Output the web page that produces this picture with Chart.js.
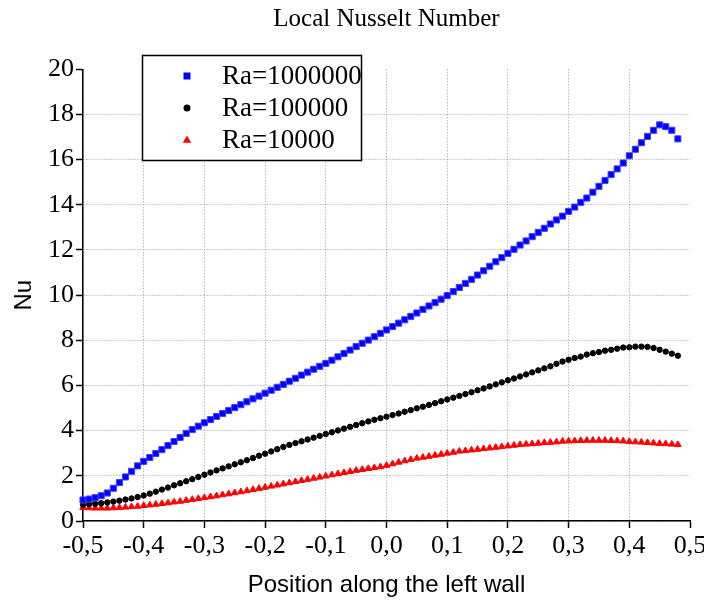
<!DOCTYPE html>
<html><head><meta charset="utf-8">
<script src="https://cdn.jsdelivr.net/npm/chart.js@4.4.1/dist/chart.umd.min.js"></script>
<style>html,body{margin:0;padding:0;background:#fff;}canvas{display:block;}</style>
</head><body>
<canvas id="c" width="704" height="603"></canvas>
<script>
const positions = [
-0.50,-0.49,-0.48,-0.47,-0.46,-0.45,-0.44,-0.43,-0.42,-0.41,
-0.40,-0.39,-0.38,-0.37,-0.36,-0.35,-0.34,-0.33,-0.32,-0.31,
-0.30,-0.29,-0.28,-0.27,-0.26,-0.25,-0.24,-0.23,-0.22,-0.21,
-0.20,-0.19,-0.18,-0.17,-0.16,-0.15,-0.14,-0.13,-0.12,-0.11,
-0.10,-0.09,-0.08,-0.07,-0.06,-0.05,-0.04,-0.03,-0.02,-0.01,
0.00,0.01,0.02,0.03,0.04,0.05,0.06,0.07,0.08,0.09,
0.10,0.11,0.12,0.13,0.14,0.15,0.16,0.17,0.18,0.19,
0.20,0.21,0.22,0.23,0.24,0.25,0.26,0.27,0.28,0.29,
0.30,0.31,0.32,0.33,0.34,0.35,0.36,0.37,0.38,0.39,
0.40,0.41,0.42,0.43,0.44,0.45,0.46,0.47,0.48];

const nuRa1e6 = [
0.93,0.97,1.03,1.12,1.24,1.45,1.70,1.95,2.20,2.44,
2.64,2.81,2.99,3.16,3.34,3.52,3.70,3.88,4.05,4.20,
4.35,4.49,4.63,4.76,4.89,5.02,5.15,5.28,5.41,5.53,
5.66,5.79,5.92,6.05,6.19,6.32,6.46,6.59,6.72,6.85,
6.98,7.12,7.27,7.42,7.57,7.72,7.87,8.01,8.16,8.31,
8.46,8.61,8.76,8.91,9.06,9.21,9.37,9.52,9.67,9.82,
9.98,10.16,10.34,10.52,10.70,10.89,11.08,11.28,11.48,11.66,
11.85,12.03,12.22,12.40,12.59,12.78,12.96,13.15,13.33,13.50,
13.71,13.90,14.11,14.30,14.56,14.82,15.08,15.34,15.59,15.85,
16.17,16.46,16.75,17.03,17.30,17.54,17.46,17.30,16.92];

const nuRa1e5 = [
0.72,0.74,0.76,0.79,0.82,0.86,0.90,0.95,1.00,1.06,
1.13,1.21,1.30,1.39,1.48,1.58,1.67,1.76,1.85,1.95,
2.05,2.15,2.24,2.33,2.42,2.51,2.60,2.69,2.79,2.89,
2.98,3.08,3.18,3.28,3.37,3.45,3.53,3.61,3.69,3.77,
3.85,3.93,4.01,4.09,4.17,4.25,4.33,4.41,4.48,4.55,
4.62,4.69,4.76,4.84,4.91,4.99,5.06,5.14,5.22,5.30,
5.38,5.46,5.54,5.62,5.70,5.79,5.87,5.96,6.05,6.14,
6.23,6.31,6.40,6.49,6.58,6.67,6.76,6.85,6.96,7.06,
7.14,7.22,7.28,7.37,7.43,7.48,7.54,7.58,7.63,7.68,
7.69,7.72,7.72,7.71,7.66,7.58,7.50,7.41,7.32];

const nuRa1e4 = [
0.60,0.58,0.57,0.57,0.57,0.58,0.59,0.61,0.63,0.65,
0.68,0.71,0.74,0.77,0.80,0.84,0.87,0.91,0.95,0.99,
1.03,1.07,1.11,1.16,1.20,1.25,1.29,1.34,1.39,1.44,
1.49,1.54,1.59,1.64,1.69,1.74,1.79,1.84,1.89,1.94,
1.99,2.04,2.09,2.14,2.19,2.24,2.28,2.32,2.36,2.40,
2.46,2.53,2.60,2.66,2.72,2.78,2.82,2.86,2.91,2.95,
3.00,3.04,3.09,3.11,3.14,3.17,3.20,3.23,3.26,3.29,
3.32,3.35,3.38,3.40,3.42,3.44,3.47,3.48,3.50,3.53,
3.54,3.55,3.56,3.57,3.57,3.57,3.57,3.56,3.55,3.54,
3.52,3.50,3.49,3.47,3.45,3.43,3.42,3.40,3.38];

const seriesLabels = ['Ra=1000000', 'Ra=100000', 'Ra=10000'];
const chartTitle = 'Local Nusselt Number';
const xTitle = 'Position along the left wall';
const yTitle = 'Nu';

function toPoints(ys) { return positions.map((x, i) => ({ x: x, y: ys[i] })); }

const legendBox = {
  id: 'legendBox',
  afterDraw(chart) {
    const ctx = chart.ctx;
    ctx.save();
    const L = 142.5, T = 55.5, W = 219, H = 105;
    ctx.fillStyle = '#fff';
    ctx.fillRect(L, T, W, H);
    ctx.strokeStyle = '#000';
    ctx.lineWidth = 1.5;
    ctx.strokeRect(L, T, W, H);
    const rows = [76, 108, 140];
    chart.data.datasets.forEach((ds, i) => {
      const y = rows[i], x = 187;
      ctx.fillStyle = ds.backgroundColor;
      if (ds.pointStyle === 'rect') {
        ctx.fillRect(x - 3.5, y - 3.5, 7, 7);
      } else if (ds.pointStyle === 'circle') {
        ctx.beginPath(); ctx.arc(x, y, 3.5, 0, Math.PI * 2); ctx.fill();
      } else {
        ctx.beginPath(); ctx.moveTo(x, y - 4.5); ctx.lineTo(x + 4.2, y + 2.8); ctx.lineTo(x - 4.2, y + 2.8); ctx.closePath(); ctx.fill();
      }
      ctx.fillStyle = '#000';
      ctx.font = '27px "Liberation Serif"';
      ctx.textBaseline = 'middle';
      ctx.textAlign = 'left';
      ctx.fillText(ds.label, 222, y + 1);
    });
    ctx.restore();
  }
};

const gridColorX = (c) => (c.tick && Math.abs(c.tick.value - 0.5) < 1e-6) ? 'rgba(0,0,0,0)' : '#9a9a9a';
const gridColorY = (c) => (c.tick && Math.abs(c.tick.value - 20) < 1e-6) ? 'rgba(0,0,0,0)' : '#9a9a9a';

new Chart(document.getElementById('c'), {
  type: 'scatter',
  data: {
    datasets: [
      { label: seriesLabels[0], data: toPoints(nuRa1e6), pointStyle: 'rect', pointRadius: 4.3, pointHoverRadius: 4.3,
        backgroundColor: '#0000ff', borderColor: '#0000ff', pointBackgroundColor: '#0000ff', pointBorderColor: '#4040ff', pointBorderWidth: 1, clip: false },
      { label: seriesLabels[1], data: toPoints(nuRa1e5), pointStyle: 'circle', pointRadius: 2.7, pointHoverRadius: 2.7,
        backgroundColor: '#000000', borderColor: '#000000', pointBackgroundColor: '#000000', pointBorderColor: '#000000', pointBorderWidth: 1, clip: false },
      { label: seriesLabels[2], data: toPoints(nuRa1e4), pointStyle: 'triangle', pointRadius: 3.8, pointHoverRadius: 3.8,
        backgroundColor: '#ff0000', borderColor: '#ff0000', pointBackgroundColor: '#ff0000', pointBorderColor: '#ff0000', pointBorderWidth: 1, clip: false }
    ]
  },
  options: {
    responsive: false,
    animation: false,
    layout: { padding: { left: 0, right: 14, top: 0, bottom: 0 } },
    plugins: {
      legend: { display: false },
      tooltip: { enabled: false },
      title: {
        display: true, text: chartTitle, color: '#000', fullSize: false,
        font: { family: '"Liberation Serif", serif', size: 25, weight: 'normal', lineHeight: 1.2 },
        padding: { top: 4, bottom: 35.3 }
      }
    },
    scales: {
      x: {
        type: 'linear', min: -0.5, max: 0.5,
        ticks: {
          stepSize: 0.1, autoSkip: false, maxRotation: 0, minRotation: 0, padding: 3, color: '#000',
          font: { family: '"Liberation Serif", serif', size: 26 },
          callback: (v) => { let n = Math.round(v * 10) / 10; if (Math.abs(n) < 1e-9) n = 0; return n.toFixed(1).replace('.', ','); }
        },
        grid: { color: gridColorX, lineWidth: 1, tickColor: '#000', tickLength: 7, tickWidth: 1.5 },
        border: { display: true, color: '#000', width: 1.5, dash: [1, 2] },
        title: { display: true, text: xTitle, color: '#000', font: { family: '"Liberation Sans", sans-serif', size: 24 }, padding: { top: 0, bottom: 3 } },
        afterFit(s) { s.height = 82; s.paddingLeft = 0; s.paddingRight = 0; }
      },
      y: {
        type: 'linear', min: 0, max: 20,
        ticks: {
          stepSize: 2, padding: 2, color: '#000',
          font: { family: '"Liberation Serif", serif', size: 26 }
        },
        grid: { color: gridColorY, lineWidth: 1, tickColor: '#000', tickLength: 7, tickWidth: 1.5 },
        border: { display: true, color: '#000', width: 1.5, dash: [1, 2] },
        title: { display: true, text: yTitle, color: '#000', font: { family: '"Liberation Sans", sans-serif', size: 24 }, padding: { top: 10, bottom: 0 } },
        afterFit(s) { s.width = 83; s.paddingTop = 0; s.paddingBottom = 0; }
      }
    }
  },
  plugins: [legendBox]
});
</script>
</body></html>
